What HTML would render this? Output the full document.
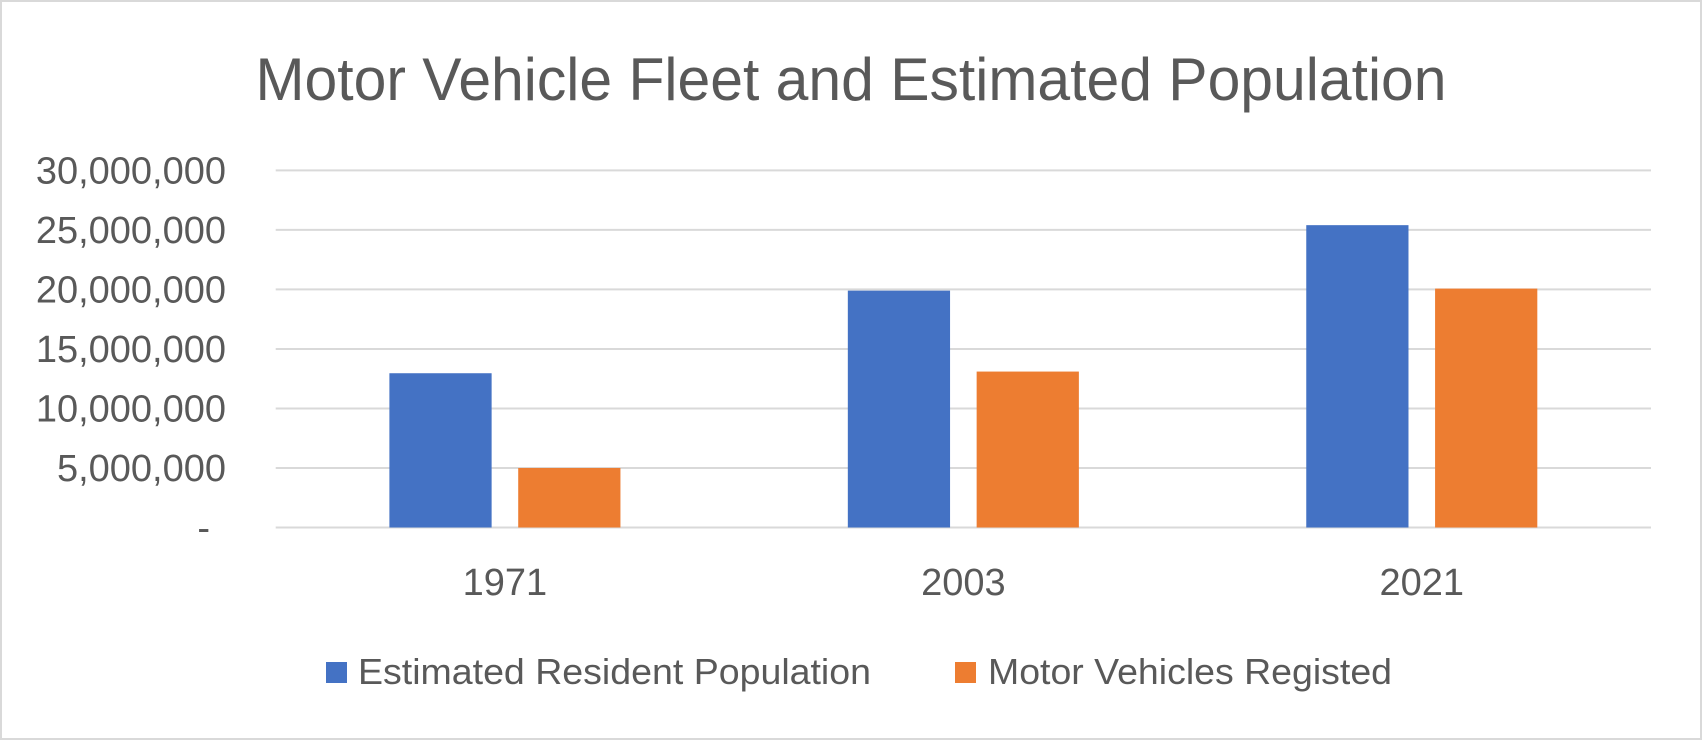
<!DOCTYPE html>
<html><head><meta charset="utf-8"><style>
html,body{margin:0;padding:0;background:#fff;}
svg{display:block;font-family:"Liberation Sans",Carlito,sans-serif;}
</style></head><body>
<svg id="chart" width="1702" height="740" viewBox="0 0 1702 740" xmlns="http://www.w3.org/2000/svg">
<rect x="1" y="1" width="1700" height="738" fill="#fff" stroke="#d9d9d9" stroke-width="2"/>
<text x="851" y="100" text-anchor="middle" font-size="60" fill="#595959" textLength="1191" lengthAdjust="spacingAndGlyphs">Motor Vehicle Fleet and Estimated Population</text>
<g id="grid"></g><g id="bars"></g><g id="labels"></g>
<g>
<rect x="326" y="662" width="21" height="21" fill="#4472c4"/>
<text x="358" y="684" font-size="36" fill="#595959" textLength="513" lengthAdjust="spacingAndGlyphs">Estimated Resident Population</text>
<rect x="955" y="662" width="21" height="21" fill="#ed7d31"/>
<text x="988" y="684" font-size="36" fill="#595959" textLength="404" lengthAdjust="spacingAndGlyphs">Motor Vehicles Registed</text>
</g>
</svg>
<script>
const categories = ["1971","2003","2021"];
const population = [12960000, 19900000, 25400000];
const vehicles = [5000000, 13100000, 20070000];
const yTicks = [0, 5000000, 10000000, 15000000, 20000000, 25000000, 30000000];
const yTickLabels = ["-", "5,000,000", "10,000,000", "15,000,000", "20,000,000", "25,000,000", "30,000,000"];

const NS = "http://www.w3.org/2000/svg";
const L = 275.7, R = 1651, Y0 = 527.5, Y1 = 170.4, VMAX = 30000000;
const y = v => Y0 - (v / VMAX) * (Y0 - Y1);
const catW = (R - L) / categories.length;
const cx = i => L + catW * (i + 0.5);
function mk(tag, attrs, parent) {
  const el = document.createElementNS(NS, tag);
  for (const k in attrs) el.setAttribute(k, attrs[k]);
  parent.appendChild(el);
  return el;
}
const grid = document.getElementById("grid"), bars = document.getElementById("bars"), labels = document.getElementById("labels");
yTicks.forEach((t, i) => {
  const ln = mk("line", {x1: L, x2: R, y1: y(t), y2: y(t), stroke: "#d9d9d9", "stroke-width": 2}, grid);
  
  
  const tx = mk("text", {x: i === 0 ? 210 : 226, y: y(t) + 13, "text-anchor": "end", "font-size": 38, fill: "#595959"}, labels);
  tx.textContent = yTickLabels[i];
  
  
});
const bw = catW * 0.223, gap = catW * 0.058;
categories.forEach((c, i) => {
  const b1 = mk("rect", {x: cx(i) - gap / 2 - bw, y: y(population[i]), width: bw, height: Y0 - y(population[i]), fill: "#4472c4"}, bars);
  
  
  const b2 = mk("rect", {x: cx(i) + gap / 2, y: y(vehicles[i]), width: bw, height: Y0 - y(vehicles[i]), fill: "#ed7d31"}, bars);
  
  
  const tx = mk("text", {x: cx(i), y: 595, "text-anchor": "middle", "font-size": 38, fill: "#595959"}, labels);
  tx.textContent = c;
  
  
});
</script>
</body></html>
